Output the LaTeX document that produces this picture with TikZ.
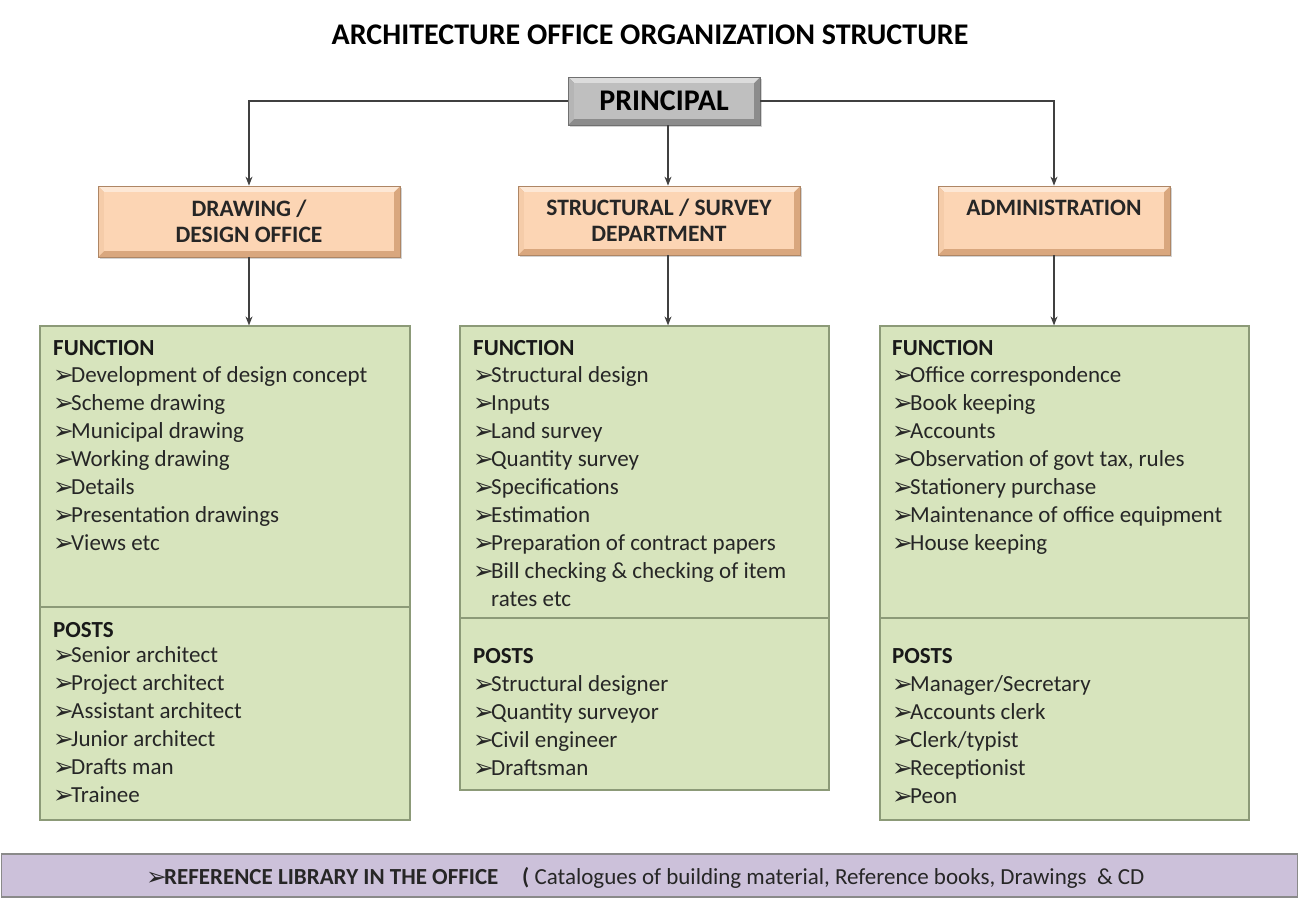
\documentclass[tikz,border=0pt]{standalone}
\usepackage{fontspec}
\setmainfont{Carlito}
\newfontfamily\symf{DejaVu Sans}
\usetikzlibrary{arrows.meta,calc,shadows}
\definecolor{peach}{HTML}{FCD5B4}
\definecolor{peachdark}{HTML}{D9A77E}
\definecolor{graybox}{HTML}{BFBFBF}
\definecolor{graydark}{HTML}{8C8C8C}
\definecolor{greenbox}{HTML}{D7E4BD}
\definecolor{greenline}{HTML}{8C9A78}
\definecolor{lav}{HTML}{CCC1DA}
\definecolor{lavline}{HTML}{8A8A8A}
\newcommand\bul{\makebox[18pt][l]{\symf\fontsize{25}{25}\selectfont\raisebox{-1pt}{➢}}}
\tikzset{
  bevelbox/.style 2 args={draw=#2!80!black, fill=#2, line width=0.8pt, inner sep=0pt,
    drop shadow={shadow xshift=2pt, shadow yshift=-2pt, opacity=0.35},
    path picture={
      \fill[#1!55!white] (path picture bounding box.north west) -- (path picture bounding box.north east)
        -- ([shift={(-6pt,-6pt)}]path picture bounding box.north east) -- ([shift={(6pt,-6pt)}]path picture bounding box.north west) -- cycle;
      \fill[#1!80!#2] (path picture bounding box.north west) -- ([shift={(6pt,-6pt)}]path picture bounding box.north west)
        -- ([shift={(6pt,6pt)}]path picture bounding box.south west) -- (path picture bounding box.south west) -- cycle;
      \fill[#1] ([shift={(6pt,-6pt)}]path picture bounding box.north west) rectangle ([shift={(-6pt,6pt)}]path picture bounding box.south east);}},
  gbox/.style={draw=greenline, fill=greenbox, line width=1.2pt, inner sep=0pt},
  deptfont/.style={font=\bfseries\fontsize{23.5}{26}\selectfont, align=center, text=black!85},
  item/.style={anchor=base west, inner sep=0pt, font=\fontsize{23}{26}\selectfont, text=black!85},
  head/.style={anchor=base west, inner sep=0pt, font=\bfseries\fontsize{23}{26}\selectfont, text=black!90},
  conn/.style={draw=black!75, line width=1.1pt},
  arr/.style={conn, -{Stealth[length=9pt,width=7pt]}},
}
\begin{document}
\begin{tikzpicture}[x=1pt,y=-1pt]
\useasboundingbox (0,0) rectangle (1299,900);
% title
\node[font=\bfseries\fontsize{30}{34}\selectfont, inner sep=0pt] (title) at (650,35) {ARCHITECTURE OFFICE ORGANIZATION STRUCTURE};
% principal
\node[bevelbox={graybox}{graydark}, minimum width=192pt, minimum height=48pt, font=\bfseries\fontsize{30}{32}\selectfont] (principal) at (664,101) {PRINCIPAL};
% departments
\node[bevelbox={peach}{peachdark}, minimum width=302pt, minimum height=71pt, deptfont] (draw) at (249,221.5) {DRAWING /\\DESIGN OFFICE};
\node[bevelbox={peach}{peachdark}, minimum width=282pt, minimum height=69pt, deptfont] (struct) at (659,220.5) {STRUCTURAL / SURVEY\\DEPARTMENT};
\node[bevelbox={peach}{peachdark}, minimum width=232pt, minimum height=69pt, deptfont] (admin) at (1054,220.5) {ADMINISTRATION\\\mbox{}};
% green boxes
\node[gbox, minimum width=370pt, minimum height=281pt] (lt) at (225,466.5) {};
\node[gbox, minimum width=370pt, minimum height=213pt] (lb) at (225,713.5) {};
\node[gbox, minimum width=369pt, minimum height=292pt] (mt) at (644.5,472) {};
\node[gbox, minimum width=369pt, minimum height=172pt] (mb) at (644.5,704) {};
\node[gbox, minimum width=369pt, minimum height=292pt] (rt) at (1064.5,472) {};
\node[gbox, minimum width=369pt, minimum height=202pt] (rb) at (1064.5,719) {};
% connectors
\draw[arr] (principal.west) -| (draw.north);
\draw[arr] (principal.east) -| (admin.north);
\draw[arr] ([xshift=4pt]principal.south) -- ([xshift=4pt]principal.south |- struct.north);
\draw[arr] (draw.south) -- (draw.south |- lt.north);
\draw[arr] ([xshift=9pt]struct.south) -- ([xshift=9pt]struct.south |- mt.north);
\draw[arr] (admin.south) -- (admin.south |- rt.north);
% left column
\node[head] (lfh) at (53,355) {FUNCTION};
\foreach \t [count=\i] in {Development of design concept, Scheme drawing, Municipal drawing, Working drawing, Details, Presentation drawings, Views etc}
  \node[item] (lf\i) at (53,382+28*\i-28) {\bul\t};
\node[head] (lph) at (53,637) {POSTS};
\foreach \t [count=\i] in {Senior architect, Project architect, Assistant architect, Junior architect, Drafts man, Trainee}
  \node[item] (lp\i) at (53,662+28*\i-28) {\bul\t};
% middle column
\node[head] (mfh) at (473,355) {FUNCTION};
\foreach \t [count=\i] in {Structural design, Inputs, Land survey, Quantity survey, Specifications, Estimation, Preparation of contract papers, Bill checking \& checking of item}
  \node[item] (mf\i) at (473,382+28*\i-28) {\bul\t};
\node[item] (mfx) at (491,606) {rates etc};
\node[head] (mph) at (473,663) {POSTS};
\foreach \t [count=\i] in {Structural designer, Quantity surveyor, Civil engineer, Draftsman}
  \node[item] (mp\i) at (473,691+28*\i-28) {\bul\t};
% right column
\node[head] (rfh) at (892,355) {FUNCTION};
\foreach \t [count=\i] in {Office correspondence, Book keeping, Accounts, {Observation of govt tax, rules}, Stationery purchase, Maintenance of office equipment, House keeping}
  \node[item] (rf\i) at (892,382+28*\i-28) {\bul\t};
\node[head] (rph) at (892,663) {POSTS};
\foreach \t [count=\i] in {Manager/Secretary, Accounts clerk, Clerk/typist, Receptionist, Peon}
  \node[item] (rp\i) at (892,691+28*\i-28) {\bul\t};
% bottom bar
\node[draw=lavline, fill=lav, line width=1.5pt, minimum width=1296pt, minimum height=43pt, inner sep=0pt] (bar) at (649.5,875.5) {};
\node[anchor=base west, inner sep=0pt, font=\bfseries\fontsize{23}{26}\selectfont, text=black!85] (barl) at (146,884) {\bul REFERENCE LIBRARY IN THE OFFICE};
\node[anchor=base west, inner sep=0pt, font=\fontsize{23}{26}\selectfont, text=black!85] (barr) at (522,884) {\textbf{(} Catalogues of building material, Reference books, Drawings \ \& CD};
\end{tikzpicture}
\end{document}
